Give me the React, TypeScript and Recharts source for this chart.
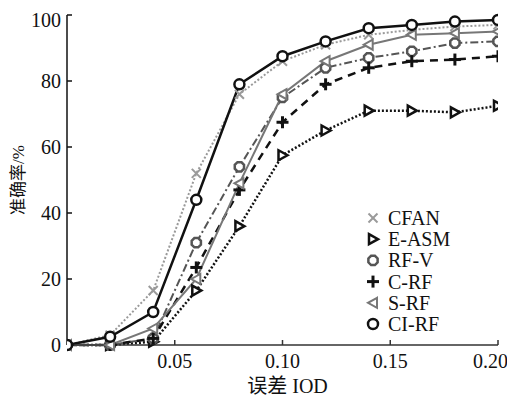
import React from "react";
import { LineChart, Line, XAxis, YAxis, Label } from "recharts";

const iod = [0, 0.02, 0.04, 0.06, 0.08, 0.1, 0.12, 0.14, 0.16, 0.18, 0.2];
const cfan = [0, 3, 16.5, 52, 76, 86, 91, 94, 95.5, 96.5, 97];
const easm = [0, 0, 1, 16.5, 36, 57.5, 65, 71, 71, 70.5, 72.5];
const rfv = [0, 0, 2, 31, 54, 75, 84, 87, 89, 91.5, 92];
const crf = [0, 0, 2, 23.5, 47, 67.5, 79, 84, 86, 86.5, 87.5];
const srf = [0, 0, 5, 20, 49, 76, 86, 91, 94, 94.5, 95];
const cirf = [0, 2.5, 10, 44, 79, 87.5, 92, 96, 97, 98, 98.5];

const xTicks = [0.05, 0.1, 0.15, 0.2];
const yTicks = [0, 20, 40, 60, 80, 100];

const data = iod.map((x, i) => ({
  x,
  cfan: cfan[i],
  easm: easm[i],
  rfv: rfv[i],
  crf: crf[i],
  srf: srf[i],
  cirf: cirf[i],
}));

type MarkerType = "x" | "tri-r" | "oct" | "plus" | "tri-l" | "circle";

const series: {
  key: string;
  name: string;
  color: string;
  width: number;
  dash?: string;
  marker: MarkerType;
}[] = [
  { key: "cfan", name: "CFAN", color: "#9a9a9a", width: 2, dash: "2 2", marker: "x" },
  { key: "easm", name: "E-ASM", color: "#111", width: 2.5, dash: "2 2", marker: "tri-r" },
  { key: "rfv", name: "RF-V", color: "#555", width: 2, dash: "8 3 2 3", marker: "oct" },
  { key: "crf", name: "C-RF", color: "#111", width: 2.5, dash: "8 6", marker: "plus" },
  { key: "srf", name: "S-RF", color: "#777", width: 2, marker: "tri-l" },
  { key: "cirf", name: "CI-RF", color: "#111", width: 2.5, marker: "circle" },
];

function Marker({ type, cx, cy, color }: { type: MarkerType; cx: number; cy: number; color: string }) {
  if (cx == null || cy == null || isNaN(cx) || isNaN(cy)) return null;
  const s = 4.5;
  switch (type) {
    case "x":
      return (
        <g stroke={color} strokeWidth={2}>
          <line x1={cx - s} y1={cy - s} x2={cx + s} y2={cy + s} />
          <line x1={cx - s} y1={cy + s} x2={cx + s} y2={cy - s} />
        </g>
      );
    case "tri-r":
      return (
        <polygon
          points={`${cx - 4},${cy - 5} ${cx + 5},${cy} ${cx - 4},${cy + 5}`}
          fill="white"
          stroke={color}
          strokeWidth={2.5}
        />
      );
    case "oct": {
      const r = 5;
      const pts: string[] = [];
      for (let k = 0; k < 8; k++) {
        const a = (Math.PI / 8) * (2 * k + 1);
        pts.push(`${cx + r * Math.cos(a)},${cy + r * Math.sin(a)}`);
      }
      return <polygon points={pts.join(" ")} fill="white" stroke={color} strokeWidth={2.5} />;
    }
    case "plus":
      return (
        <g stroke={color} strokeWidth={3}>
          <line x1={cx - 6} y1={cy} x2={cx + 6} y2={cy} />
          <line x1={cx} y1={cy - 6} x2={cx} y2={cy + 6} />
        </g>
      );
    case "tri-l":
      return (
        <polygon
          points={`${cx + 4},${cy - 5} ${cx - 5},${cy} ${cx + 4},${cy + 5}`}
          fill="white"
          stroke={color}
          strokeWidth={2}
        />
      );
    case "circle":
    default:
      return <circle cx={cx} cy={cy} r={5} fill="white" stroke={color} strokeWidth={2.5} />;
  }
}

const FONT = "'Liberation Serif', 'Times New Roman', 'Noto Sans CJK SC', serif";

function LegendBox() {
  return (
    <svg
      width={130}
      height={132}
      style={{ position: "absolute", left: 355, top: 198, display: "block" }}
    >
      {series.map((s, i) => {
        const cy = 12 + i * 21.2;
        return (
          <g key={s.key}>
            <Marker type={s.marker} cx={10} cy={cy} color={s.color} />
            <text x={25} y={cy} dy="0.35em" fontSize={20} fontFamily={FONT} fill="#111">
              {s.name}
            </text>
          </g>
        );
      })}
    </svg>
  );
}

export default function App() {
  return (
    <div style={{ background: "white", width: 500, height: 390, position: "relative" }}>
      <LineChart
        width={500}
        height={390}
        data={data}
        margin={{ top: 7, right: 10, left: 0, bottom: 0 }}
      >
        <XAxis
          dataKey="x"
          type="number"
          domain={[0, 0.2]}
          ticks={xTicks}
          tickFormatter={(v: number) => v.toFixed(2)}
          height={53}
          tickSize={-5}
          tickMargin={14}
          axisLine={{ stroke: "#333", strokeWidth: 1.5 }}
          tickLine={{ stroke: "#333", strokeWidth: 1.5 }}
          tick={{ fill: "#111", fontSize: 20, fontFamily: FONT }}
          allowDataOverflow
        >
          <Label
            value="误差 IOD"
            position="insideBottom"
            offset={5}
            dx={5}
            fill="#111"
            fontSize={20}
            fontFamily={FONT}
          />
        </XAxis>
        <YAxis
          type="number"
          domain={[0, 100]}
          ticks={yTicks}
          width={59}
          tickSize={-5}
          tickMargin={11}
          axisLine={{ stroke: "#111", strokeWidth: 1.5 }}
          tickLine={{ stroke: "#111", strokeWidth: 1.5 }}
          tick={{ fill: "#111", fontSize: 20, fontFamily: FONT }}
        >
          <Label
            content={(props: any) => {
              const vb = props.viewBox || { y: 7, height: 330 };
              const cy = vb.y + vb.height / 2;
              return (
                <text
                  x={10}
                  y={cy}
                  transform={`rotate(-90, 10, ${cy})`}
                  textAnchor="middle"
                  dominantBaseline="central"
                  fontSize={17}
                  fontFamily={FONT}
                  fill="#111"
                >
                  准确率/%
                </text>
              );
            }}
          />
        </YAxis>
        {series.map((s) => (
          <Line
            key={s.key}
            dataKey={s.key}
            name={s.name}
            stroke={s.color}
            strokeWidth={s.width}
            strokeDasharray={s.dash}
            isAnimationActive={false}
            dot={(p: any) => (
              <Marker key={`${s.key}-${p.index}`} type={s.marker} cx={p.cx} cy={p.cy} color={s.color} />
            )}
            activeDot={false}
          />
        ))}
      </LineChart>
      <LegendBox />
    </div>
  );
}
